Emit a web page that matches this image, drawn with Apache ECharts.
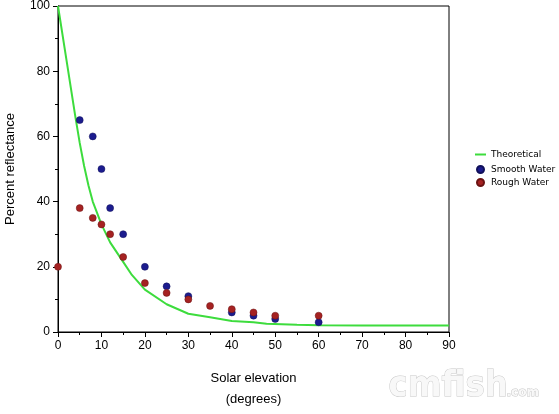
<!DOCTYPE html>
<html>
<head>
<meta charset="utf-8">
<script src="https://cdn.jsdelivr.net/npm/echarts@6/dist/echarts.min.js"></script>
<style>
  html, body { margin: 0; padding: 0; background: #fff; }
  #chart { width: 559px; height: 414px; }
</style>
</head>
<body>
<div id="chart"></div>
<script>
// theoretical curve (deg, %)
const theoX = [0, 2, 4, 5, 6, 7, 8, 10, 12, 15, 17, 20, 25, 30, 35, 40, 45, 48, 55, 60, 70, 80, 90];
const theoY = [100, 83, 66, 58, 51, 45, 40, 33, 27.5, 21.5, 17.5, 13, 8.5, 5.6, 4.5, 3.4, 3, 2.5, 2.2, 2.1, 2, 2, 2];
// smooth water measurements
const smoothX = [5, 8, 10, 12, 15, 20, 25, 30, 40, 45, 50, 60];
const smoothY = [65, 60, 50, 38, 30, 20, 14, 11, 6, 5, 4, 3];
// rough water measurements
const roughX = [0, 5, 8, 10, 12, 15, 20, 25, 30, 35, 40, 45, 50, 60];
const roughY = [20, 38, 35, 33, 30, 23, 15, 12, 10, 8, 7, 6, 5, 5];

const pairs = (xs, ys) => xs.map((x, i) => [x, ys[i]]);

const chart = echarts.init(document.getElementById('chart'));
const font = 'Liberation Sans, Arial, sans-serif';
const legendText = { fontFamily: 'DejaVu Sans', fontSize: 9, color: '#000' };

chart.setOption({
  animation: false,
  backgroundColor: '#fff',
  grid: {
    left: 58, right: 110, top: 6, bottom: 82,
    outerBoundsMode: 'none',
    containLabel: false,
    show: true, borderColor: '#000', borderWidth: 1
  },
  legend: [
    {
      // line entry
      orient: 'vertical', left: 475, top: 150, padding: 0,
      itemWidth: 11, itemHeight: 2, icon: 'rect',
      textStyle: legendText,
      data: ['Theoretical']
    },
    {
      // marker entries
      orient: 'vertical', left: 476, top: 165, padding: 0,
      itemWidth: 7, itemHeight: 7, itemGap: 4, icon: 'circle',
      textStyle: Object.assign({ padding: [0, 0, 0, 2] }, legendText),
      data: ['Smooth Water', 'Rough Water']
    }
  ],
  xAxis: {
    type: 'value', min: 0, max: 90, interval: 10,
    name: 'Solar elevation\n(degrees)',
    nameLocation: 'middle', nameGap: 36,
    nameTextStyle: { fontFamily: font, fontSize: 13, color: '#000', lineHeight: 21 },
    axisLine: { show: true, lineStyle: { color: '#000' } },
    axisTick: { show: true, inside: false, length: 5, lineStyle: { color: '#000' } },
    minorTick: { show: true, splitNumber: 2, length: 3, lineStyle: { color: '#000' } },
    axisLabel: { fontFamily: font, fontSize: 12, color: '#000', margin: 8 },
    splitLine: { show: false }
  },
  yAxis: {
    type: 'value', min: 0, max: 100, interval: 20,
    name: 'Percent reflectance',
    nameLocation: 'middle', nameGap: 41,
    nameTextStyle: { fontFamily: font, fontSize: 13, color: '#000' },
    axisLine: { show: true, lineStyle: { color: '#000' } },
    axisTick: { show: true, inside: false, length: 5, lineStyle: { color: '#000' } },
    minorTick: { show: true, splitNumber: 2, length: 3, lineStyle: { color: '#000' } },
    axisLabel: { fontFamily: font, fontSize: 12, color: '#000', margin: 8 },
    splitLine: { show: false }
  },
  series: [
    {
      name: 'Theoretical',
      type: 'line',
      symbol: 'none',
      lineStyle: { color: '#3ddc3d', width: 2 },
      itemStyle: { color: '#3ddc3d' },
      data: pairs(theoX, theoY),
      z: 1
    },
    {
      name: 'Smooth Water',
      type: 'scatter',
      symbolSize: 7,
      itemStyle: { color: '#1c1c8e', borderColor: '#10105a', borderWidth: 0.5, opacity: 1 },
      data: pairs(smoothX, smoothY),
      z: 2
    },
    {
      name: 'Rough Water',
      type: 'scatter',
      symbolSize: 7,
      itemStyle: { color: '#a52222', borderColor: '#6a1212', borderWidth: 0.5, opacity: 1 },
      data: pairs(roughX, roughY),
      z: 3
    }
  ],
  graphic: [
    {
      type: 'text', left: 388, top: 368, scaleX: 0.9, silent: true,
      style: {
        text: 'cmfish', font: 'bold 36px DejaVu Sans',
        fill: '#f8f8f8', stroke: '#c8c8c8', lineWidth: 1
      }
    },
    {
      type: 'text', left: 506, top: 386, silent: true,
      style: {
        text: '.com', font: 'bold 12px DejaVu Sans',
        fill: '#f8f8f8', stroke: '#c8c8c8', lineWidth: 1
      }
    }
  ]
});
</script>
</body>
</html>
